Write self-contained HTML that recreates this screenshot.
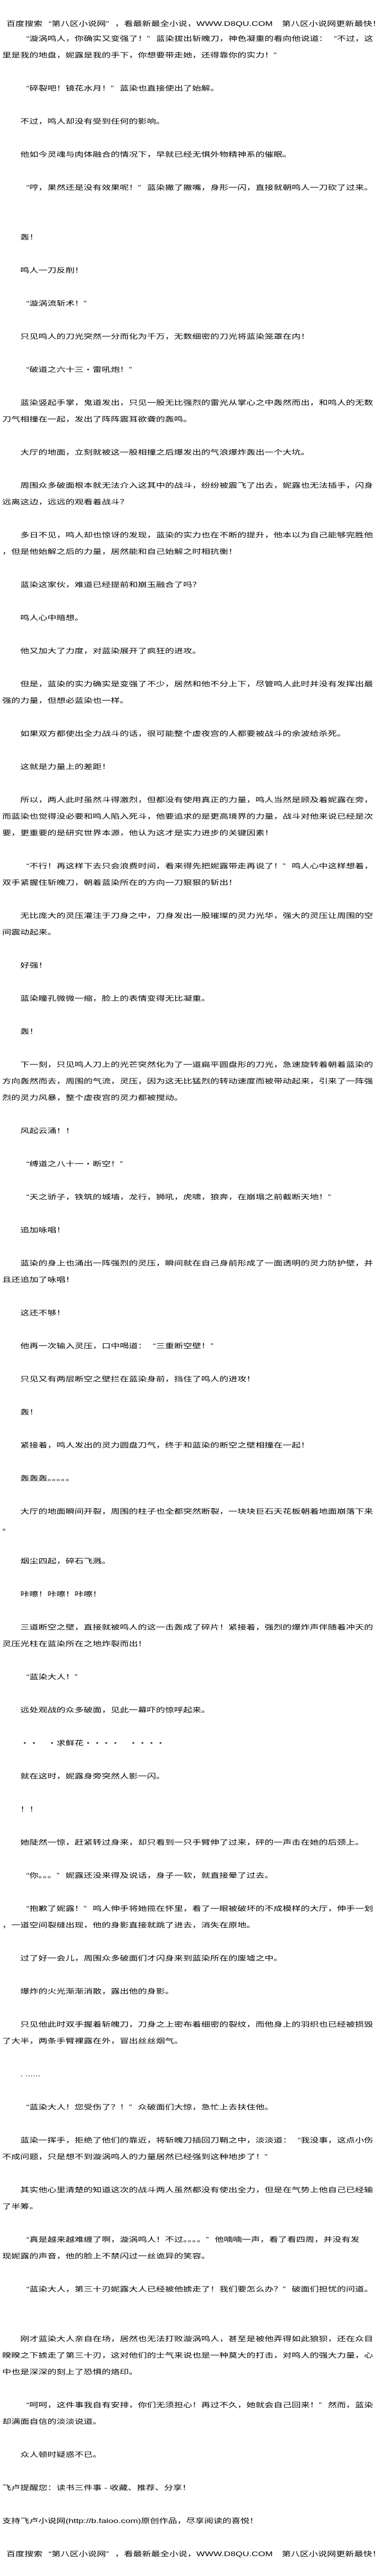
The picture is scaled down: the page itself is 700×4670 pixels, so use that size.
<!DOCTYPE html>
<html><head><meta charset="utf-8">
<style>
html,body{margin:0;padding:0;background:#fff;}
body{width:700px;height:4670px;position:relative;overflow:hidden;}
.w{position:absolute;left:3.6px;top:55px;transform:scaleX(1.367);transform-origin:0 0;
font-family:"Liberation Sans","Noto Sans CJK SC",sans-serif;font-size:12px;line-height:30px;white-space:pre;color:#000;}
.h{position:absolute;left:3.6px;top:28px;transform:scaleX(1.367);transform-origin:0 0;
font-family:"Liberation Sans","Noto Sans CJK SC",sans-serif;font-size:12px;line-height:30px;white-space:pre;color:#000;}
i{font-style:normal;display:inline-block;width:1em;text-align:right;}
b{font-weight:normal;display:inline-block;width:1em;text-align:left;}
.p{padding-left:5.5px;}
</style></head><body>
<div class="h"><span class="p">百度搜索<i>“</i>第八区小说网<b>”</b>，看最新最全小说，WWW.D8QU.COM　第八区小说网更新最快！</span></div>
<div class="w">　　<i>“</i>漩涡鸣人，你确实又变强了！<b>”</b>蓝染拔出斩魄刀，神色凝重的看向他说道：<i>“</i>不过，这
里是我的地盘，妮露是我的手下，你想要带走她，还得靠你的实力！<b>”</b>

　　<i>“</i>碎裂吧！镜花水月！<b>”</b>蓝染也直接使出了始解。

　　不过，鸣人却没有受到任何的影响。

　　他如今灵魂与肉体融合的情况下，早就已经无惧外物精神系的催眠。

　　<i>“</i>哼，果然还是没有效果呢！<b>”</b>蓝染撇了撇嘴，身形一闪，直接就朝鸣人一刀砍了过来。


　　轰！

　　鸣人一刀反削！

　　<i>“</i>漩涡流斩术！<b>”</b>

　　只见鸣人的刀光突然一分而化为千万，无数细密的刀光将蓝染笼罩在内！

　　<i>“</i>破道之六十三・雷吼炮！<b>”</b>

　　蓝染竖起手掌，鬼道发出，只见一股无比强烈的雷光从掌心之中轰然而出，和鸣人的无数
刀气相撞在一起，发出了阵阵震耳欲聋的轰鸣。

　　大厅的地面，立刻就被这一股相撞之后爆发出的气浪爆炸轰出一个大坑。

　　周围众多破面根本就无法介入这其中的战斗，纷纷被震飞了出去，妮露也无法插手，闪身
远离这边，远远的观看着战斗？

　　多日不见，鸣人却也惊讶的发现，蓝染的实力也在不断的提升，他本以为自己能够完胜他
，但是他始解之后的力量，居然能和自己始解之时相抗衡！

　　蓝染这家伙，难道已经提前和崩玉融合了吗？

　　鸣人心中暗想。

　　他又加大了力度，对蓝染展开了疯狂的进攻。

　　但是，蓝染的实力确实是变强了不少，居然和他不分上下，尽管鸣人此时并没有发挥出最
强的力量，但想必蓝染也一样。

　　如果双方都使出全力战斗的话，很可能整个虚夜宫的人都要被战斗的余波给杀死。

　　这就是力量上的差距！

　　所以，两人此时虽然斗得激烈，但都没有使用真正的力量，鸣人当然是顾及着妮露在旁，
而蓝染也觉得没必要和鸣人陷入死斗，他要追求的是更高境界的力量，战斗对他来说已经是次
要，更重要的是研究世界本源，他认为这才是实力进步的关键因素！

　　<i>“</i>不行！再这样下去只会浪费时间，看来得先把妮露带走再说了！<b>”</b>鸣人心中这样想着，
双手紧握住斩魄刀，朝着蓝染所在的方向一刀狠狠的斩出！

　　无比庞大的灵压灌注于刀身之中，刀身发出一股璀璨的灵力光华，强大的灵压让周围的空
间震动起来。

　　好强！

　　蓝染瞳孔微微一缩，脸上的表情变得无比凝重。

　　轰！

　　下一刻，只见鸣人刀上的光芒突然化为了一道扁平圆盘形的刀光，急速旋转着朝着蓝染的
方向轰然而去，周围的气流，灵压，因为这无比猛烈的转动速度而被带动起来，引来了一阵强
烈的灵力风暴，整个虚夜宫的灵力都被搅动。

　　风起云涌！！

　　<i>“</i>缚道之八十一・断空！<b>”</b>

　　<i>“</i>天之骄子，铁筑的城墙，龙行，狮吼，虎啸，狼奔，在崩塌之前截断天地！<b>”</b>

　　追加咏唱！

　　蓝染的身上也涌出一阵强烈的灵压，瞬间就在自己身前形成了一面透明的灵力防护壁，并
且还追加了咏唱！

　　这还不够！

　　他再一次输入灵压，口中喝道：<i>“</i>三重断空壁！<b>”</b>

　　只见又有两层断空之壁拦在蓝染身前，挡住了鸣人的进攻！

　　轰！

　　紧接着，鸣人发出的灵力圆盘刀气，终于和蓝染的断空之壁相撞在一起！

　　轰轰轰。。。。。

　　大厅的地面瞬间开裂，周围的柱子也全都突然断裂，一块块巨石天花板朝着地面崩落下来
。

　　烟尘四起，碎石飞溅。

　　咔嚓！咔嚓！咔嚓！

　　三道断空之壁，直接就被鸣人的这一击轰成了碎片！紧接着，强烈的爆炸声伴随着冲天的
灵压光柱在蓝染所在之地炸裂而出！

　　<i>“</i>蓝染大人！<b>”</b>

　　远处观战的众多破面，见此一幕吓的惊呼起来。

　　・・　・求鲜花・・・・　・・・・

　　就在这时，妮露身旁突然人影一闪。

　　！！

　　她陡然一惊，赶紧转过身来，却只看到一只手臂伸了过来，砰的一声击在她的后颈上。

　　<i>“</i>你。。。<b>”</b>妮露还没来得及说话，身子一软，就直接晕了过去。

　　<i>“</i>抱歉了妮露！<b>”</b>鸣人伸手将她揽在怀里，看了一眼被破坏的不成模样的大厅，伸手一划
，一道空间裂缝出现，他的身影直接就跳了进去，消失在原地。

　　过了好一会儿，周围众多破面们才闪身来到蓝染所在的废墟之中。

　　爆炸的火光渐渐消散，露出他的身影。

　　只见他此时双手握着斩魄刀，刀身之上密布着细密的裂纹，而他身上的羽织也已经被损毁
了大半，两条手臂裸露在外，冒出丝丝烟气。

　　. ......

　　<i>“</i>蓝染大人！您受伤了？！<b>”</b>众破面们大惊，急忙上去扶住他。

　　蓝染一挥手，拒绝了他们的靠近，将斩魄刀插回刀鞘之中，淡淡道：<i>“</i>我没事，这点小伤
不成问题，只是想不到漩涡鸣人的力量居然已经强到这种地步了！<b>”</b>

　　其实他心里清楚的知道这次的战斗两人虽然都没有使出全力，但是在气势上他自己已经输
了半筹。

　　<i>“</i>真是越来越难缠了啊，漩涡鸣人！不过。。。。<b>”</b>他喃喃一声，看了看四周，并没有发
现妮露的声音，他的脸上不禁闪过一丝诡异的笑容。

　　<i>“</i>蓝染大人，第三十刃妮露大人已经被他掳走了！我们要怎么办？<b>”</b>破面们担忧的问道。


　　刚才蓝染大人亲自在场，居然也无法打败漩涡鸣人，甚至是被他弄得如此狼狈，还在众目
睽睽之下掳走了第三十刃，这对他们的士气来说也是一种莫大的打击，对鸣人的强大力量，心
中也是深深的刻上了恐惧的烙印。

　　<i>“</i>呵呵，这件事我自有安排，你们无须担心！再过不久，她就会自己回来！<b>”</b>然而，蓝染
却满面自信的淡淡说道。

　　众人顿时疑惑不已。

飞卢提醒您：读书三件事 - 收藏、推荐、分享！

支持飞卢小说网(http://b.faloo.com)原创作品，尽享阅读的喜悦！

<span class="p">百度搜索<i>“</i>第八区小说网<b>”</b>，看最新最全小说，WWW.D8QU.COM　第八区小说网更新最快！</span></div>
</body></html>
